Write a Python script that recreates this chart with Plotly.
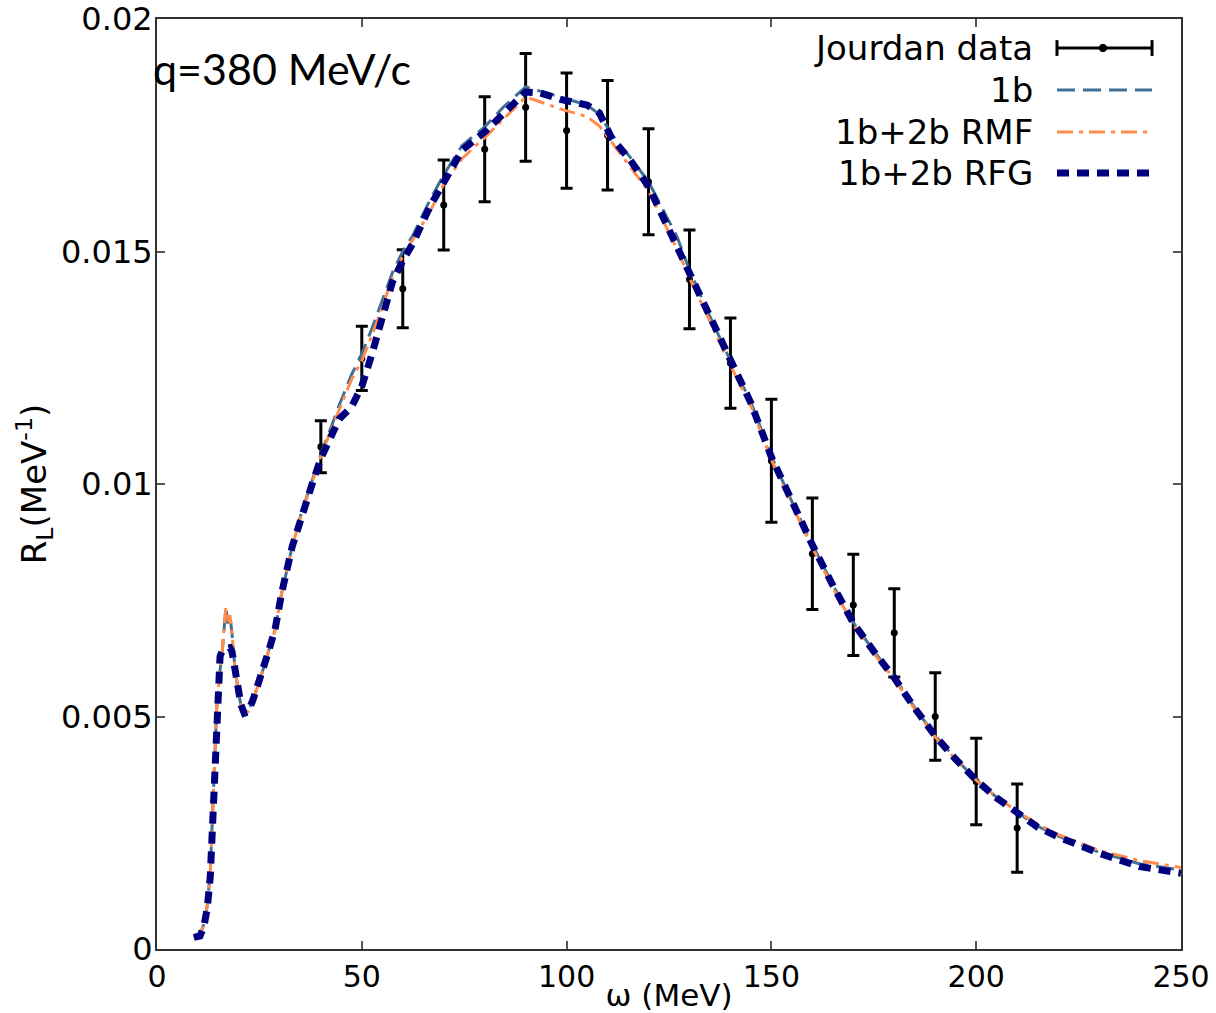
import plotly.graph_objects as go

# ---------------- data ----------------
# Jourdan data
omega_data = [40, 50, 60, 70, 80, 90, 100, 110, 120, 130, 140, 150, 160, 170, 180, 190, 200, 210]
rl_data = [0.0108, 0.0127, 0.0142, 0.0160, 0.0172, 0.0181, 0.0176, 0.0175, 0.0165, 0.0144,
           0.0126, 0.0105, 0.0085, 0.0074, 0.0068, 0.0050, 0.0036, 0.0026]
rl_err = [0.00056, 0.00069, 0.00084, 0.00097, 0.00113, 0.00116, 0.00124, 0.00118, 0.00114, 0.00106,
          0.00097, 0.00132, 0.00120, 0.00109, 0.00095, 0.00094, 0.00093, 0.00095]

# model curves (shared omega grid)
omega_model = [9.0, 10.5, 11.5, 12.3, 13.0, 13.7, 14.2, 14.6, 15.0, 15.4, 15.9, 16.3, 16.8, 17.3, 17.8,
               18.3, 19.0, 19.8, 20.5, 21.3, 22.2, 23.4, 25.1, 26.8, 28.8, 30.5, 33.0, 35.0, 37.8,
               40.0, 42.2, 44.5, 47.5, 50.0, 52.5, 55.0, 57.5, 60.0, 62.5, 66.6, 70.0, 74.5, 80.0,
               84.5, 90.0, 93.5, 99.0, 105.0, 108.0, 111.0, 115.5, 120.0, 127.0, 130.0, 135.0, 140.0,
               145.0, 150.0, 155.0, 160.0, 165.0, 170.0, 175.0, 180.0, 185.0, 190.0, 195.0, 200.0,
               205.0, 210.0, 215.0, 220.0, 230.0, 240.0, 250.0]

rl_1b = [0.00025, 0.00030, 0.00055, 0.00095, 0.00165, 0.00300, 0.00430, 0.00520, 0.00570, 0.00600,
         0.00637, 0.00680, 0.00733, 0.00700, 0.00718, 0.00680, 0.00607, 0.00555, 0.00525, 0.00507,
         0.00510, 0.00535, 0.00578, 0.00628, 0.00686, 0.00768, 0.00865, 0.00930, 0.01005,
         0.01065, 0.01115, 0.01170, 0.01235, 0.01280, 0.01335, 0.01395, 0.01455, 0.01500, 0.01535,
         0.01610, 0.01665, 0.01728, 0.01768, 0.01810, 0.01854, 0.01845, 0.01830, 0.01815, 0.01795,
         0.01752, 0.01703, 0.01650, 0.01531, 0.01460, 0.01360, 0.01265, 0.01176, 0.01060, 0.00962,
         0.00870, 0.00783, 0.00702, 0.00641, 0.00584, 0.00519, 0.00459, 0.00409, 0.00364, 0.00326,
         0.00294, 0.00264, 0.00243, 0.00208, 0.00183, 0.00170]

rl_rmf = [0.00025, 0.00030, 0.00055, 0.00095, 0.00165, 0.00300, 0.00430, 0.00520, 0.00570, 0.00600,
          0.00637, 0.00680, 0.00733, 0.00700, 0.00718, 0.00680, 0.00607, 0.00555, 0.00525, 0.00507,
          0.00510, 0.00535, 0.00578, 0.00628, 0.00686, 0.00768, 0.00865, 0.00928, 0.01000,
          0.01060, 0.01110, 0.01160, 0.01225, 0.01265, 0.01320, 0.01380, 0.01445, 0.01490, 0.01525,
          0.01585, 0.01645, 0.01700, 0.01745, 0.01785, 0.01832, 0.01822, 0.01805, 0.01790, 0.01770,
          0.01735, 0.01682, 0.01630, 0.01505, 0.01443, 0.01350, 0.01255, 0.01168, 0.01052, 0.00955,
          0.00863, 0.00777, 0.00697, 0.00636, 0.00580, 0.00516, 0.00456, 0.00407, 0.00363, 0.00327,
          0.00296, 0.00268, 0.00246, 0.00212, 0.00190, 0.00175]

rl_rfg = [0.00025, 0.00028, 0.00050, 0.00090, 0.00155, 0.00290, 0.00420, 0.00510, 0.00610, 0.00630,
          0.00640, 0.00643, 0.00645, 0.00647, 0.00648, 0.00640, 0.00604, 0.00557, 0.00525, 0.00507,
          0.00510, 0.00535, 0.00578, 0.00628, 0.00686, 0.00768, 0.00865, 0.00925, 0.00998,
          0.01055, 0.01101, 0.01140, 0.01166, 0.01210, 0.01280, 0.01360, 0.01435, 0.01480, 0.01518,
          0.01596, 0.01650, 0.01718, 0.01757, 0.01798, 0.01843, 0.01841, 0.01826, 0.01815, 0.01798,
          0.01744, 0.01697, 0.01640, 0.01510, 0.01450, 0.01355, 0.01262, 0.01174, 0.01058, 0.00960,
          0.00869, 0.00782, 0.00701, 0.00640, 0.00583, 0.00518, 0.00458, 0.00408, 0.00363, 0.00325,
          0.00292, 0.00262, 0.00241, 0.00206, 0.00177, 0.00163]

x_ticks = [0, 50, 100, 150, 200, 250]
y_ticks = [0, 0.005, 0.01, 0.015, 0.02]
y_tick_text = ["0", "0.005", "0.01", "0.015", "0.02"]

legend_names = ["Jourdan data", "1b", "1b+2b RMF", "1b+2b RFG"]

# ---------------- styles ----------------
C_1B = "#3f7096"
C_RMF = "#ff8c4a"
C_RFG = "#00007f"
DASH_1B = "18px,8px"
DASH_RMF = "16px,6px,4px,6px"
DASH_RFG = "12px,8px"
FONT = "DejaVu Sans"

fig = go.Figure()

fig.add_trace(go.Scatter(
    x=omega_data, y=rl_data, mode="markers", name=legend_names[0],
    marker=dict(color="black", size=7),
    error_y=dict(type="data", array=rl_err, visible=True, color="black", thickness=3, width=6),
    showlegend=False))

fig.add_trace(go.Scatter(x=omega_model, y=rl_1b, mode="lines", name=legend_names[1],
                         line=dict(color=C_1B, width=3, dash=DASH_1B), showlegend=False))
fig.add_trace(go.Scatter(x=omega_model, y=rl_rmf, mode="lines", name=legend_names[2],
                         line=dict(color=C_RMF, width=3, dash=DASH_RMF), showlegend=False))
fig.add_trace(go.Scatter(x=omega_model, y=rl_rfg, mode="lines", name=legend_names[3],
                         line=dict(color=C_RFG, width=7, dash=DASH_RFG), showlegend=False))

# ---------------- legend (drawn matplotlib-style: text left, sample right) ----------------
leg_y = [0.9688, 0.9237, 0.8785, 0.8344]
leg_text_x = 0.8574
leg_x0, leg_x1, leg_xm = 0.8789, 0.9717, 0.9238
shapes = []
annotations = []
for name, yy in zip(legend_names, leg_y):
    annotations.append(dict(x=leg_text_x, y=yy, xref="paper", yref="paper", text=name,
                            showarrow=False, xanchor="right", yanchor="middle",
                            font=dict(family=FONT, size=34, color="black")))
# errorbar sample
shapes.append(dict(type="line", xref="paper", yref="paper", x0=leg_x0, x1=leg_x1,
                   y0=leg_y[0], y1=leg_y[0], line=dict(color="black", width=3)))
for xc in (leg_x0, leg_x1):
    shapes.append(dict(type="line", xref="paper", yref="paper", x0=xc, x1=xc,
                       y0=leg_y[0] - 0.0085, y1=leg_y[0] + 0.0085, line=dict(color="black", width=3)))
shapes.append(dict(type="circle", xref="paper", yref="paper", x0=leg_xm - 0.0036, x1=leg_xm + 0.0036,
                   y0=leg_y[0] - 0.004, y1=leg_y[0] + 0.004, fillcolor="black",
                   line=dict(color="black", width=1)))
for yy, col, w, d in [(leg_y[1], C_1B, 3, DASH_1B), (leg_y[2], C_RMF, 3, DASH_RMF),
                      (leg_y[3], C_RFG, 7, DASH_RFG)]:
    shapes.append(dict(type="line", xref="paper", yref="paper", x0=leg_x0, x1=leg_x1,
                       y0=yy, y1=yy, line=dict(color=col, width=w, dash=d)))

annotations.append(dict(x=-0.006, y=0.947, xref="paper", yref="paper", text="q=380 MeV/c",
                        showarrow=False, xanchor="left", yanchor="middle",
                        font=dict(family="Lato", size=43, color="black")))

axis_common = dict(showline=True, linecolor="#333333", linewidth=2, mirror="allticks",
                   ticks="inside", ticklen=8, tickwidth=1.5, tickcolor="#555555",
                   showgrid=False, zeroline=False, ticklabeloverflow="allow")

fig.update_layout(
    width=1216, height=1013,
    margin=dict(l=157, r=35, t=19, b=64, autoexpand=False),
    paper_bgcolor="white", plot_bgcolor="white",
    shapes=shapes, annotations=annotations,
    xaxis=dict(range=[0, 250], tickvals=x_ticks, automargin=False,
               tickfont=dict(family=FONT, size=30, color="black"),
               title=dict(text="ω (MeV)", font=dict(family=FONT, size=31, color="black"), standoff=2),
               **axis_common),
    yaxis=dict(range=[0, 0.02], tickvals=y_ticks, ticktext=y_tick_text, automargin=False,
               tickfont=dict(family=FONT, size=32, color="black"), ticklabelstandoff=-4,
               title=dict(text="R<sub>L</sub>(MeV<sup>-1</sup>)", font=dict(family=FONT, size=34, color="black"),
                          standoff=4),
               **axis_common),
)

# remove the browser's default page margin so the figure fills the window exactly
fig.write_html("out.html",
               config={"displayModeBar": False},
               post_script="document.body.style.margin='0px'; document.body.style.overflow='hidden';")
